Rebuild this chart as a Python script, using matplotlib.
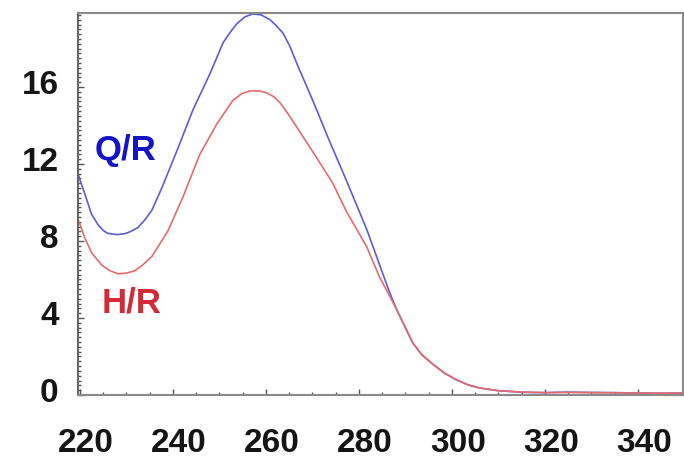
import matplotlib
matplotlib.use("Agg")
import matplotlib.pyplot as plt
from matplotlib.ticker import MultipleLocator
from matplotlib.transforms import ScaledTranslation

# Wavelength (nm) and values
qr_x = [219.6, 220.0, 221.0, 222.5, 223.9, 225.0, 226.0, 228.0, 229.7, 231.0, 232.5,
        234.0, 235.5, 237.7, 240.9, 244.3, 248.0, 250.8, 252.5, 253.8, 255.5, 257.2,
        259.0, 260.9, 262.2, 263.7, 265.2, 266.7, 270.1, 273.5, 277.4, 281.7, 285.0,
        286.5, 288.2, 290.0, 291.6, 293.5, 295.9, 298.5, 301.0, 303.5, 306.0, 310.0,
        315.0, 320.0, 325.0, 330.0, 335.0, 340.0, 345.0, 349.7]
qr_y = [11.5, 11.2, 10.5, 9.4, 8.85, 8.55, 8.4, 8.33, 8.38, 8.5, 8.7,
        9.1, 9.6, 10.8, 12.7, 14.8, 16.7, 18.3, 18.9, 19.3, 19.65, 19.8,
        19.75, 19.5, 19.2, 18.8, 18.1, 17.2, 15.3, 13.3, 11.1, 8.6, 6.4,
        5.4, 4.4, 3.5, 2.7, 2.1, 1.6, 1.12, 0.78, 0.52, 0.36, 0.22,
        0.14, 0.12, 0.15, 0.13, 0.12, 0.10, 0.08, 0.10]

hr_x = [219.6, 220.0, 221.0, 222.5, 224.7, 226.5, 228.2, 230.0, 231.8, 233.5, 235.5,
        238.9, 242.2, 245.8, 249.5, 252.9, 254.8, 256.6, 258.5, 260.2, 261.7, 263.0,
        264.8, 266.7, 271.0, 274.4, 277.4, 281.7, 284.5, 286.5, 288.2, 290.0, 291.6,
        293.5, 295.9, 298.5, 301.0, 303.5, 306.0, 310.0, 315.0, 320.0, 325.0, 330.0,
        335.0, 340.0, 345.0, 349.7]
hr_y = [9.1, 8.9, 8.2, 7.4, 6.75, 6.45, 6.3, 6.33, 6.45, 6.75, 7.2,
        8.5, 10.3, 12.5, 14.1, 15.3, 15.65, 15.8, 15.8, 15.7, 15.5, 15.2,
        14.6, 13.9, 12.3, 11.0, 9.5, 7.7, 6.1, 5.2, 4.4, 3.5, 2.7,
        2.1, 1.6, 1.12, 0.78, 0.52, 0.36, 0.22, 0.15, 0.12, 0.13, 0.12,
        0.11, 0.10, 0.09, 0.10]

x_ticks = [220, 240, 260, 280, 300, 320, 340]
y_ticks = [0, 4, 8, 12, 16]

plt.rcParams['font.family'] = ['Liberation Sans', 'DejaVu Sans']

fig = plt.figure(figsize=(6.84, 4.63), dpi=100)
ax = fig.add_axes([0.114, 0.147, 0.8845, 0.825])

ax.plot(qr_x, qr_y, color='#5c5cd8', lw=1.2)
ax.plot(hr_x, hr_y, color='#e56b6b', lw=1.2)

ax.set_xlim(219.6, 349.7)
ax.set_ylim(0, 19.85)
ax.set_xticks(x_ticks)
ax.set_yticks(y_ticks)
ax.xaxis.set_minor_locator(MultipleLocator(5))
ax.yaxis.set_minor_locator(MultipleLocator(0.25))

ax.tick_params(axis='both', which='major', direction='in', length=4, width=1,
               color='#555555', labelsize=24, labelcolor='#151515')
ax.tick_params(axis='both', which='minor', direction='in', length=2.5, width=1,
               color='#555555')
ax.tick_params(axis='x', which='major', pad=24)
ax.tick_params(axis='y', which='major', pad=14)
for lab in ax.get_xticklabels() + ax.get_yticklabels():
    lab.set_fontweight('bold')
off = ScaledTranslation(0, 5 / 100, fig.dpi_scale_trans)
for lab in ax.get_yticklabels():
    lab.set_transform(lab.get_transform() + off)
offx = ScaledTranslation(6 / 100, 0, fig.dpi_scale_trans)
for lab in ax.get_xticklabels():
    lab.set_transform(lab.get_transform() + offx)

for side in ['top', 'right', 'bottom', 'left']:
    ax.spines[side].set_color('#8a8a8a')
    ax.spines[side].set_linewidth(1.5)
ax.spines['left'].set_color('#666666')

ax.text(229.9, 12.7, 'Q/R', color='#1414c4', fontsize=25, fontweight='bold',
        ha='center', va='center')
ax.text(231.2, 4.8, 'H/R', color='#d42a38', fontsize=25, fontweight='bold',
        ha='center', va='center')

fig.savefig('out.png', dpi=100)
